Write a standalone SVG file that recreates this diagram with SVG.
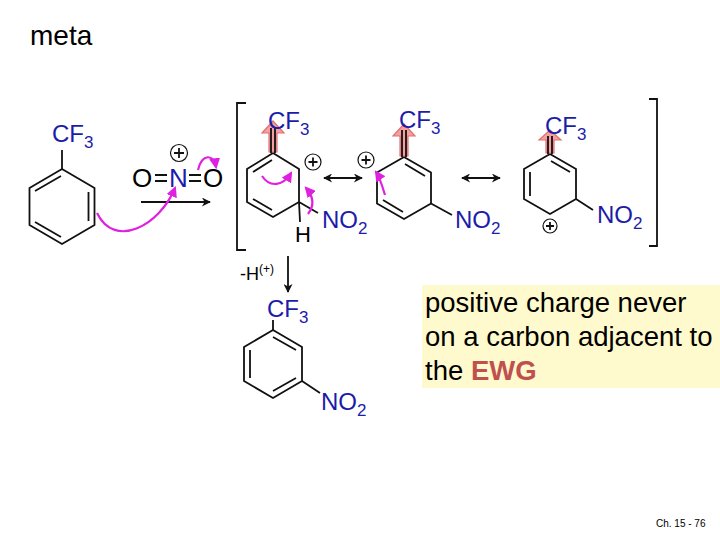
<svg xmlns="http://www.w3.org/2000/svg" width="720" height="540" viewBox="0 0 720 540">
<defs>
<style>
.b{stroke:#111;stroke-width:1.8;fill:none}
.m{stroke:#e020e0;stroke-width:2.2;fill:none}
.t{font-family:"Liberation Sans",Arial,sans-serif}
.bl{fill:#1c1caa;font-size:24px}
.sub{font-size:17px}
.pl{fill:none;stroke:#111;stroke-width:1.2}
.ea{fill:#f4a0a0;stroke:#e07070;stroke-width:1.2}
</style>
<marker id="mh" viewBox="0 0 10 10" refX="8" refY="5" markerWidth="5" markerHeight="5" orient="auto"><path d="M0,0 L10,5 L0,10 z" fill="#e020e0"/></marker>
<marker id="ah" viewBox="0 0 10 10" refX="9" refY="5" markerWidth="6" markerHeight="5" orient="auto-start-reverse"><path d="M0,0 L10,5 L0,10 L3,5 z" fill="#111"/></marker>
</defs>
<rect width="720" height="540" fill="#fff"/>
<text class="t" x="30" y="45" font-size="28">meta</text>

<g id="benzene">
<polygon class="b" points="62,169 94.5,188 94.5,225 62,244 29.5,225 29.5,188"/>
<path class="b" d="M61,176 L35,191 M88.5,192 L88.5,221 M61,237 L35,222 M62,169 L62,150"/>
<text class="t bl" x="52" y="142">CF<tspan class="sub" dy="6">3</tspan></text>
</g>

<g id="nitronium">
<text class="t" x="132" y="187" font-size="26">O</text>
<path class="b" d="M155,175 h12 M155,181 h12 M189,175 h12 M189,181 h12"/>
<text class="t" x="169" y="187" font-size="26" fill="#1c1caa">N</text>
<text class="t" x="203" y="187" font-size="26">O</text>
<circle class="pl" cx="179" cy="153" r="8.5"/>
<path class="b" d="M179,148 v10 M174,153 h10" stroke-width="1.2"/>
</g>

<g id="sigma1">
<polygon class="b" points="273,153 299,169 299,202 273,217 247,202 247,169"/>
<path class="b" d="M272,160 L253,172 M272,210 L253,199 M299,202 L318,213 M299,202 L300,222"/>
<path class="ea" d="M269,152 L269,133 L262,133 L273,121 L284,133 L277,133 L277,152 z"/>
<path class="b" d="M271,153 L271,128 M275,153 L275,128" stroke-width="1.2"/>
<text class="t bl" x="268" y="129">CF<tspan class="sub" dy="6">3</tspan></text>
<text class="t bl" x="322" y="228">NO<tspan class="sub" dy="6">2</tspan></text>
<text class="t" x="295" y="242" font-size="22">H</text>
<circle class="pl" cx="313" cy="162" r="8"/>
<path class="b" d="M313,157.5 v9 M308.5,162 h9" stroke-width="1.2"/>
</g>

<g id="sigma2">
<polygon class="b" points="404,157 431,172.5 431,203.5 404,219 377,203.5 377,172.5"/>
<path class="b" d="M405,164 L425,176 M403,212 L383,200 M431,203.5 L452,215"/>
<path class="ea" d="M400,156 L400,136 L393,136 L404,124 L415,136 L408,136 L408,156 z"/>
<path class="b" d="M402,157 L402,130 M406,157 L406,130" stroke-width="1.2"/>
<text class="t bl" x="399" y="128">CF<tspan class="sub" dy="6">3</tspan></text>
<text class="t bl" x="455" y="228">NO<tspan class="sub" dy="6">2</tspan></text>
<circle class="pl" cx="366" cy="160" r="8"/>
<path class="b" d="M366,155.5 v9 M361.5,160 h9" stroke-width="1.2"/>
</g>

<g id="sigma3">
<polygon class="b" points="550,154 576,169 576,199 550,214 524,199 524,169"/>
<path class="b" d="M551,161 L570,172 M530,172 L530,196 M576,199 L593,210"/>
<path class="ea" d="M546,153 L546,140 L539,140 L550,130 L561,140 L554,140 L554,153 z"/>
<path class="b" d="M548,154 L548,136 M552,154 L552,136" stroke-width="1.2"/>
<text class="t bl" x="545" y="134">CF<tspan class="sub" dy="6">3</tspan></text>
<text class="t bl" x="597" y="223">NO<tspan class="sub" dy="6">2</tspan></text>
<circle class="pl" cx="550" cy="226" r="7"/>
<path class="b" d="M550,222 v8 M546,226 h8" stroke-width="1.2"/>
</g>

<g id="product">
<polygon class="b" points="273,330 302,347 302,381 273,398 244,381 244,347"/>
<path class="b" d="M273,337 L296,350 M250,350 L250,378 M296,378 L273,391 M273,330 L273,320 M302,381 L320,393"/>
<text class="t bl" x="267" y="317">CF<tspan class="sub" dy="6">3</tspan></text>
<text class="t bl" x="321" y="410">NO<tspan class="sub" dy="6">2</tspan></text>
<text class="t" x="240" y="280" font-size="18">-H<tspan font-size="12" dy="-7">(+)</tspan></text>
</g>

<g id="brackets" class="b" stroke-width="1.5">
<path d="M246,103 H237 V250 H246"/>
<path d="M649,99 H657 V246 H649"/>
</g>

<g id="connectors">
<path class="b" d="M141,202 H210" marker-end="url(#ah)" stroke-width="1.5"/>
<path class="b" d="M324,178 H362" marker-start="url(#ah)" marker-end="url(#ah)" stroke-width="1.5"/>
<path class="b" d="M462,178 H500" marker-start="url(#ah)" marker-end="url(#ah)" stroke-width="1.5"/>
<path class="b" d="M288,256 V292" marker-end="url(#ah)" stroke-width="1.5"/>
<path class="m" d="M97,213 C115,250 160,225 175,188" marker-end="url(#mh)"/>
<path class="m" d="M198,170 C202,153 214,154 216,167" marker-end="url(#mh)"/>
<path class="m" d="M262,176 C270,188 283,186 291,173" marker-end="url(#mh)"/>
<path class="m" d="M308,214 C315,205 313,196 306,188" marker-end="url(#mh)"/>
<path class="m" d="M385,195 C382,185 380,178 376,172" marker-end="url(#mh)"/>
</g>

<g id="note">
<rect x="422" y="285" width="298" height="103" fill="#fffacd"/>
<text class="t" x="425" y="312" font-size="27.5">positive charge never</text>
<text class="t" x="425" y="346" font-size="27.5">on a carbon adjacent to</text>
<text class="t" x="425" y="380" font-size="27.5">the <tspan fill="#c0504d" font-weight="bold">EWG</tspan></text>
</g>
<text class="t" x="656" y="527" font-size="10">Ch. 15 - 76</text>
</svg>
